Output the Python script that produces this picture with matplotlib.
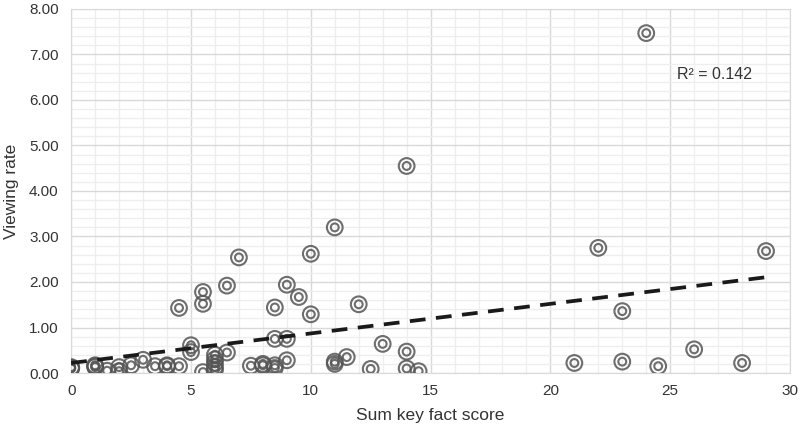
import matplotlib.pyplot as plt
import numpy as np
from matplotlib.ticker import MultipleLocator, FormatStrFormatter

plt.rcParams['font.family'] = ['Liberation Sans', 'DejaVu Sans']

# data
key_fact_score = [0, 0, 0, 1, 1, 1, 1.5, 2, 2, 2.5, 3, 3.5, 4, 4, 4.5, 4.5,
                  5, 5, 5.5, 5.5, 5.5, 6, 6, 6, 6, 6, 6.5, 6.5, 7, 7.5,
                  8, 8, 8.5, 8.5, 8.5, 8.5, 9, 9, 9, 9.5, 10, 10, 11, 11, 11,
                  11.5, 12, 12.5, 13, 14, 14, 14, 14.5,
                  21, 22, 23, 23, 24, 24.5, 26, 28, 29]
viewing_rate = [0.11, 0.13, 0.10, 0.15, 0.13, 0.17, 0.05, 0.13, 0.04, 0.17, 0.29, 0.15, 0.17, 0.15, 0.15, 1.43,
                0.61, 0.46, 0.02, 1.78, 1.52, 0.40, 0.30, 0.22, 0.13, 0.07, 0.45, 1.92, 2.54, 0.16,
                0.17, 0.20, 0.11, 0.17, 0.75, 1.44, 0.75, 0.28, 1.94, 1.67, 1.29, 2.62, 3.20, 0.25, 0.20,
                0.35, 1.51, 0.09, 0.64, 0.47, 0.10, 4.55, 0.04,
                0.22, 2.75, 1.36, 0.25, 7.47, 0.15, 0.52, 0.22, 2.68]

# trendline as drawn in the picture
trend_intercept = 0.22
trend_slope = 0.065
r2_text = 'R² = 0.142'

fig = plt.figure(figsize=(8, 4.28), dpi=100)
ax = fig.add_axes([0.089, 0.1285, 0.8985, 0.8505])

x = np.array(key_fact_score)
y = np.array(viewing_rate)
ax.scatter(x, y, s=128, facecolors='none', edgecolors='#555555', linewidths=1.5, alpha=0.85, zorder=3)
ax.scatter(x, y, s=32, facecolors='none', edgecolors='#555555', linewidths=1.5, alpha=0.85, zorder=3)

xt = np.array([0, max(key_fact_score)])
ax.plot(xt, trend_intercept + trend_slope * xt, linestyle=(0, (4.2, 2.8)), color='#1a1a1a',
        linewidth=2.7, zorder=4)

ax.text(25.3, 6.55, r2_text, fontsize=11.5, va='center', ha='left', color='#333333')

ax.set_xlim(0, 30)
ax.set_ylim(0, 8)
ax.xaxis.set_major_locator(MultipleLocator(5))
ax.xaxis.set_minor_locator(MultipleLocator(1))
ax.yaxis.set_major_locator(MultipleLocator(1))
ax.yaxis.set_minor_locator(MultipleLocator(0.2))
ax.yaxis.set_major_formatter(FormatStrFormatter('%.2f'))
ax.grid(which='major', color='#d9d9d9', linewidth=1.0, zorder=0)
ax.grid(which='minor', color='#eeeeee', linewidth=0.9, zorder=0)
ax.set_axisbelow(True)
ax.tick_params(which='both', length=0, labelsize=11, colors='#333333')
ax.tick_params(axis='y', pad=9)
ax.tick_params(axis='x', pad=8)
for s in ax.spines.values():
    s.set_color('#d9d9d9')

ax.set_xlabel('Sum key fact score', fontsize=12.5, color='#333333', labelpad=7)
ax.set_ylabel('Viewing rate', fontsize=12.5, color='#333333', labelpad=7)

fig.savefig('out.png', dpi=100)
